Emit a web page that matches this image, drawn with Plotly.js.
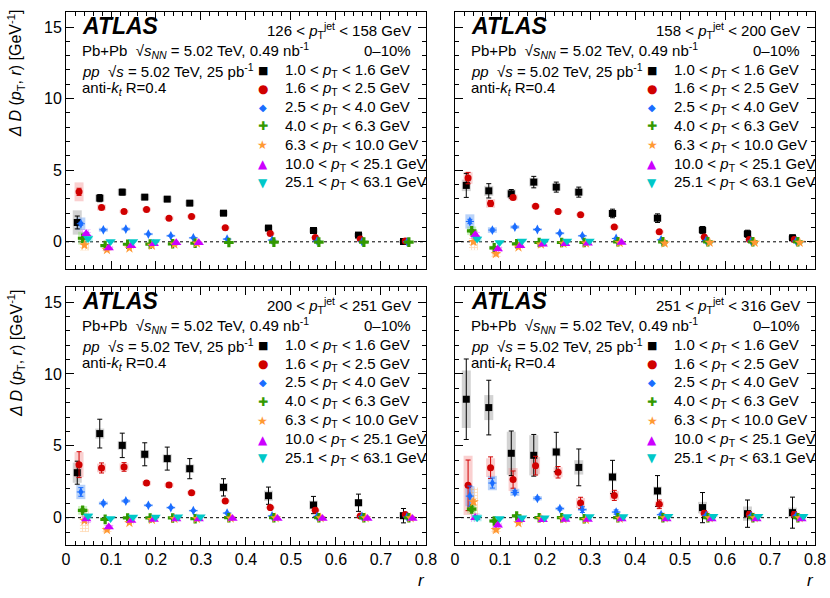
<!DOCTYPE html>
<html>
<head>
<meta charset="utf-8">
<script src="https://cdn.plot.ly/plotly-3.0.1.min.js"></script>
<style>
  body { margin: 0; background: #fff; }
  #chart { width: 830px; height: 598px; }
</style>
</head>
<body>
<div id="chart"></div>
<script>
var n = null;

// r bin centres
var rCenters = [0.025, 0.075, 0.125, 0.175, 0.225, 0.275, 0.35, 0.45, 0.55, 0.65, 0.75];
var jetPtEdges = ['126', '158', '200', '251', '316'];
var trackPtEdges = ['1.0', '1.6', '2.5', '4.0', '6.3', '10.0', '25.1', '63.1'];

// Delta D values, one row per track pT bin
var val126 = [
  [1.35, 3.05, 3.47, 3.12, 2.98, 2.70, 2.00, 0.96, 0.79, 0.47, 0.02],
  [3.49, 2.40, 2.12, 2.26, 1.65, 1.77, 0.98, 0.58, 0.30, 0.19, 0.05],
  [1.26, 0.84, 0.89, 0.54, 0.42, 0.28, 0.19, 0.12, 0.06, 0.01, 0.00],
  [0.25, -0.26, -0.17, -0.16, -0.14, -0.10, -0.05, -0.02, -0.02, -0.02, -0.02],
  [-0.23, -0.56, -0.44, -0.26, -0.17, -0.10, n, n, n, n, n],
  [0.56, -0.44, -0.28, -0.14, -0.07, -0.07, n, n, n, n, n],
  [0.23, 0.02, 0.02, 0.02, n, n, n, n, n, n, n]
];
var stat126 = [
  [0.45, 0.25, 0.20, 0.15, 0.15, 0.15, 0.12, 0.10, 0.10, 0.10, 0.08],
  [0.25, 0.12, 0.10, 0.10, 0.08, 0.08, 0.07, 0.06, 0.05, 0.05, 0.05],
  [0.10, 0.06, 0.06, 0.05, 0.05, 0.04, 0.04, 0.03, 0.03, 0.03, 0.03],
  [0.06, 0.04, 0.03, 0.03, 0.03, 0.03, 0.02, 0.02, 0.02, 0.02, 0.02],
  [0.06, 0.05, 0.04, 0.03, 0.03, 0.03, 0.02, 0.02, 0.02, 0.02, 0.02],
  [0.08, 0.06, 0.05, 0.04, 0.04, 0.04, 0.03, 0.03, 0.03, 0.03, 0.03],
  [0.08, 0.05, 0.04, 0.04, 0.04, 0.04, 0.03, 0.03, 0.03, 0.03, 0.03]
];
var sys126 = [
  [0.85, 0.25, 0.22, 0.20, 0.20, 0.20, 0.18, 0.18, 0.16, 0.14, 0.12],
  [0.66, 0.20, 0.12, 0.12, 0.12, 0.12, 0.10, 0.08, 0.07, 0.06, 0.05],
  [0.44, 0.14, 0.10, 0.08, 0.07, 0.06, 0.05, 0.04, 0.04, 0.03, 0.03],
  [0.45, 0.10, 0.06, 0.05, 0.05, 0.04, 0.03, 0.03, 0.02, 0.02, 0.02],
  [0.37, 0.12, 0.08, 0.06, 0.05, 0.04, 0.03, 0.03, 0.02, 0.02, 0.02],
  [0.30, 0.14, 0.08, 0.06, 0.05, 0.05, 0.04, 0.03, 0.03, 0.03, 0.03],
  [0.25, 0.06, 0.05, 0.05, 0.04, 0.04, 0.03, 0.03, 0.03, 0.03, 0.03]
];

var val158 = [
  [3.94, 3.56, 3.35, 4.17, 3.82, 3.47, 1.98, 1.65, 0.82, 0.56, 0.28],
  [4.45, 2.68, 3.10, 2.49, 2.12, 1.89, 1.03, 0.70, 0.33, 0.16, 0.16],
  [1.42, 0.82, 1.03, 0.86, 0.60, 0.42, 0.23, 0.14, 0.09, 0.05, 0.05],
  [0.77, -0.42, -0.14, -0.05, -0.05, -0.05, 0.00, 0.00, 0.00, 0.00, 0.00],
  [0.00, -0.84, -0.37, -0.17, -0.12, -0.10, -0.07, -0.10, -0.05, -0.05, -0.05],
  [0.49, -0.51, -0.28, -0.17, -0.14, -0.10, -0.05, n, n, n, n],
  [0.19, -0.05, 0.05, 0.05, 0.05, 0.05, n, n, n, n, n]
];
var stat158 = [
  [0.84, 0.50, 0.30, 0.40, 0.35, 0.35, 0.30, 0.30, 0.25, 0.25, 0.20],
  [0.40, 0.20, 0.15, 0.10, 0.10, 0.10, 0.10, 0.08, 0.07, 0.06, 0.06],
  [0.15, 0.08, 0.07, 0.06, 0.05, 0.05, 0.04, 0.04, 0.03, 0.03, 0.03],
  [0.08, 0.05, 0.04, 0.03, 0.03, 0.03, 0.02, 0.02, 0.02, 0.02, 0.02],
  [0.08, 0.06, 0.05, 0.04, 0.03, 0.03, 0.03, 0.03, 0.03, 0.03, 0.03],
  [0.08, 0.07, 0.05, 0.04, 0.04, 0.04, 0.03, 0.03, 0.03, 0.03, 0.03],
  [0.08, 0.05, 0.04, 0.04, 0.04, 0.04, 0.03, 0.03, 0.03, 0.03, 0.03]
];
var sys158 = [
  [0.40, 0.35, 0.30, 0.30, 0.25, 0.25, 0.25, 0.25, 0.20, 0.20, 0.15],
  [0.40, 0.30, 0.20, 0.12, 0.10, 0.10, 0.10, 0.10, 0.07, 0.06, 0.05],
  [0.50, 0.20, 0.12, 0.10, 0.08, 0.06, 0.05, 0.04, 0.04, 0.03, 0.03],
  [0.30, 0.15, 0.08, 0.06, 0.05, 0.04, 0.03, 0.03, 0.02, 0.02, 0.02],
  [0.58, 0.25, 0.12, 0.08, 0.06, 0.05, 0.04, 0.04, 0.03, 0.03, 0.03],
  [0.30, 0.18, 0.08, 0.06, 0.05, 0.05, 0.04, 0.03, 0.03, 0.03, 0.03],
  [0.20, 0.06, 0.05, 0.05, 0.04, 0.04, 0.03, 0.03, 0.03, 0.03, 0.03]
];

var val200 = [
  [3.13, 5.85, 5.03, 4.41, 4.11, 3.41, 2.11, 1.53, 0.88, 1.04, 0.14],
  [3.69, 3.46, 3.53, 2.41, 2.27, 1.74, 1.16, 0.70, 0.51, 0.12, 0.23],
  [1.79, 1.00, 1.16, 0.86, 0.70, 0.49, 0.32, 0.12, 0.09, 0.09, 0.05],
  [0.51, -0.12, -0.02, -0.02, -0.02, -0.07, 0.00, 0.00, 0.00, 0.00, 0.00],
  [-0.20, -0.84, -0.35, -0.14, -0.07, -0.07, -0.03, -0.02, -0.02, -0.02, -0.02],
  [-0.10, -0.65, -0.19, -0.12, -0.09, -0.09, -0.05, -0.05, -0.05, -0.05, -0.05],
  [0.12, -0.05, 0.05, 0.05, 0.07, 0.07, n, n, n, n, n]
];
var stat200 = [
  [0.80, 1.00, 0.85, 0.80, 0.80, 0.70, 0.60, 0.60, 0.60, 0.60, 0.50],
  [0.90, 0.35, 0.30, 0.15, 0.15, 0.12, 0.10, 0.08, 0.08, 0.06, 0.06],
  [0.30, 0.10, 0.08, 0.07, 0.06, 0.05, 0.05, 0.04, 0.04, 0.03, 0.03],
  [0.10, 0.05, 0.04, 0.03, 0.03, 0.03, 0.02, 0.02, 0.02, 0.02, 0.02],
  [0.10, 0.06, 0.05, 0.04, 0.03, 0.03, 0.03, 0.03, 0.03, 0.03, 0.03],
  [0.10, 0.08, 0.05, 0.04, 0.04, 0.04, 0.03, 0.03, 0.03, 0.03, 0.03],
  [0.10, 0.05, 0.04, 0.04, 0.04, 0.04, 0.03, 0.03, 0.03, 0.03, 0.03]
];
var sys200 = [
  [0.70, 0.35, 0.30, 0.30, 0.30, 0.30, 0.30, 0.35, 0.30, 0.25, 0.25],
  [0.87, 0.30, 0.25, 0.15, 0.15, 0.12, 0.10, 0.08, 0.07, 0.06, 0.06],
  [0.50, 0.12, 0.10, 0.08, 0.07, 0.06, 0.05, 0.04, 0.04, 0.03, 0.03],
  [0.30, 0.10, 0.06, 0.05, 0.05, 0.04, 0.03, 0.03, 0.02, 0.02, 0.02],
  [0.80, 0.20, 0.12, 0.08, 0.06, 0.05, 0.04, 0.04, 0.03, 0.03, 0.03],
  [0.35, 0.15, 0.08, 0.06, 0.05, 0.05, 0.04, 0.03, 0.03, 0.03, 0.03],
  [0.20, 0.06, 0.05, 0.05, 0.04, 0.04, 0.03, 0.03, 0.03, 0.03, 0.03]
];

var val251 = [
  [8.24, 7.66, 4.48, 4.34, 4.57, 3.50, 2.83, 1.86, 0.70, 0.28, 0.35],
  [2.25, 3.48, 2.65, 3.62, 3.16, 1.02, 1.55, 0.93, 0.30, 0.23, 0.23],
  [1.50, 2.41, 1.76, 1.35, 0.63, 0.56, 0.39, 0.21, 0.16, 0.12, 0.12],
  [0.60, -0.23, 0.12, 0.00, 0.00, -0.07, 0.00, 0.00, 0.00, 0.00, 0.00],
  [1.10, -0.84, -0.37, -0.07, -0.09, -0.14, -0.05, -0.02, -0.02, -0.02, -0.02],
  [0.00, -0.53, -0.14, -0.14, -0.12, -0.12, -0.09, -0.09, -0.09, -0.09, -0.09],
  [0.00, -0.05, 0.00, 0.00, 0.09, 0.09, 0.09, 0.10, 0.10, 0.10, 0.10]
];
var stat251 = [
  [2.80, 1.90, 1.55, 1.45, 1.37, 1.28, 1.16, 1.07, 1.05, 0.95, 1.08],
  [1.76, 0.75, 0.60, 0.65, 0.40, 0.40, 0.35, 0.30, 0.20, 0.20, 0.20],
  [0.70, 0.35, 0.12, 0.10, 0.10, 0.20, 0.15, 0.10, 0.08, 0.08, 0.08],
  [0.15, 0.08, 0.05, 0.04, 0.04, 0.04, 0.03, 0.03, 0.03, 0.03, 0.03],
  [0.15, 0.08, 0.06, 0.05, 0.04, 0.04, 0.03, 0.03, 0.03, 0.03, 0.03],
  [0.12, 0.08, 0.06, 0.05, 0.04, 0.04, 0.04, 0.04, 0.04, 0.04, 0.04],
  [0.12, 0.06, 0.05, 0.05, 0.04, 0.04, 0.04, 0.04, 0.04, 0.04, 0.04]
];
var sys251 = [
  [2.00, 0.87, 1.50, 1.40, 0.30, 0.50, 0.30, 0.30, 0.40, 0.50, 0.35],
  [2.06, 0.65, 0.80, 0.60, 0.35, 0.35, 0.30, 0.20, 0.15, 0.12, 0.10],
  [0.70, 0.50, 0.25, 0.15, 0.10, 0.10, 0.08, 0.06, 0.05, 0.05, 0.05],
  [0.30, 0.12, 0.08, 0.06, 0.05, 0.04, 0.03, 0.03, 0.02, 0.02, 0.02],
  [1.00, 0.25, 0.12, 0.08, 0.06, 0.05, 0.04, 0.04, 0.03, 0.03, 0.03],
  [0.30, 0.15, 0.08, 0.06, 0.05, 0.05, 0.04, 0.03, 0.03, 0.03, 0.03],
  [0.25, 0.06, 0.05, 0.05, 0.04, 0.04, 0.03, 0.03, 0.03, 0.03, 0.03]
];

var panels = [
  { vals: val126, stat: stat126, sys: sys126, suf: '',  jet: 0 },
  { vals: val158, stat: stat158, sys: sys158, suf: '2', jet: 1 },
  { vals: val200, stat: stat200, sys: sys200, suf: '3', jet: 2 },
  { vals: val251, stat: stat251, sys: sys251, suf: '4', jet: 3 }
];

var FONT = "'Liberation Sans', Arial, Helvetica, sans-serif";
var colors = ['#000000', '#d00000', '#1a6dff', '#339900', '#ff9933', '#cc00ff', '#00c8c8'];
var boxColors = ['rgba(140,140,140,0.38)', 'rgba(240,120,120,0.35)', 'rgba(90,150,240,0.42)',
                 'rgba(120,220,90,0.38)', 'rgba(250,150,60,0.6)', 'rgba(215,60,235,0.55)', 'rgba(70,215,215,0.4)'];
var symbols = ['square', 'circle', 'diamond-tall', 'cross', 'star', 'triangle-up', 'triangle-down'];
var sizes = [7, 7, 7, 8, 8, 9, 9];
var glyphs = ['\u25A0', '\u25CF', '\u25C6', '\u271A', '\u2605', '\u25B2', '\u25BC'];
var glyphSizes = [11, 12, 10, 12, 12, 12, 12];
var DODGE = 0.004;

var data = [];
panels.forEach(function(p) {
  p.vals.forEach(function(v, s) {
    var xs = rCenters.map(function(r) { return r + s * DODGE; });
    var hatch = (s === 4 || s === 5);
    data.push({
      type: 'bar', xaxis: 'x' + p.suf, yaxis: 'y' + p.suf,
      x: xs,
      y: v.map(function(y, i) { return y === null ? null : 2 * p.sys[s][i]; }),
      base: v.map(function(y, i) { return y === null ? null : y - p.sys[s][i]; }),
      width: 0.02,
      marker: {
        color: boxColors[s], line: { width: 0 },
        pattern: hatch ? { shape: '+', size: 3, solidity: 0.5, fgcolor: colors[s], fgopacity: 0.35 } : undefined
      },
      showlegend: false, hoverinfo: 'skip'
    });
    data.push({
      type: 'scatter', mode: 'markers', xaxis: 'x' + p.suf, yaxis: 'y' + p.suf,
      x: xs, y: v,
      marker: { symbol: symbols[s], size: sizes[s], color: colors[s], line: { width: 0 } },
      error_y: { type: 'data', array: p.stat[s], color: colors[s], thickness: 1, width: 2.5 },
      error_x: s === 2 ? { type: 'constant', value: 0.009, color: colors[s], thickness: 1, width: 0 } : undefined,
      showlegend: false
    });
  });
});

function xAxis(domain, anchor, labels) {
  return {
    domain: domain, anchor: anchor, range: [0, 0.8], tick0: 0, dtick: 0.1,
    ticks: 'inside', ticklen: 8, tickwidth: 1, tickcolor: '#000',
    showline: true, linecolor: '#000', linewidth: 1, mirror: 'allticks',
    showgrid: false, zeroline: false, showticklabels: labels,
    tickfont: { family: FONT, size: 16, color: '#000' },
    minor: { dtick: 0.02, ticks: 'inside', ticklen: 4, tickcolor: '#000', showgrid: false }
  };
}
function yAxis(domain, anchor, labels) {
  return {
    domain: domain, anchor: anchor, range: [-1.9, 16.05], tick0: 0, dtick: 5,
    ticks: 'inside', ticklen: 8, tickwidth: 1, tickcolor: '#000',
    showline: true, linecolor: '#000', linewidth: 1, mirror: 'allticks',
    showgrid: false, zeroline: false, showticklabels: labels,
    tickfont: { family: FONT, size: 16, color: '#000' },
    minor: { dtick: 1, ticks: 'inside', ticklen: 4, tickcolor: '#000', showgrid: false }
  };
}

var xL = [0, 0.4806], xR = [0.5194, 1];
var yT = [0.5178, 1], yB = [0, 0.4841];

var annotations = [];
var shapes = [];
var PH = 257, PW = 360;
function fy(px) { return 1 - px / PH; }
function fx(px) { return px / PW; }

panels.forEach(function(p) {
  var xr = 'x' + p.suf + ' domain', yr = 'y' + p.suf + ' domain';
  function txt(t, x, y, anchor, size, extra) {
    var a = { text: t, xref: xr, yref: yr, x: x, y: y, xanchor: anchor, yanchor: 'middle',
              showarrow: false, font: { family: FONT, size: size || 15, color: '#000' } };
    if (extra) Object.assign(a, extra);
    annotations.push(a);
  }
  txt('<b><i>ATLAS</i></b>', fx(14), fy(14), 'left', 23);
  txt(jetPtEdges[p.jet] + ' < <i>p</i><sub>T</sub><sup>jet</sup> < ' + jetPtEdges[p.jet + 1] + ' GeV',
      fx(347), fy(18), 'right', 15);
  txt('Pb+Pb  \u221A<i>s</i><sub><i>NN</i></sub> = 5.02 TeV, 0.49 nb<sup>-1</sup>', fx(14), fy(38), 'left', 15);
  txt('0\u201310%', fx(347), fy(38), 'right', 15);
  txt('<i>pp</i>  \u221A<i>s</i> = 5.02 TeV, 25 pb<sup>-1</sup>', fx(14), fy(58), 'left', 15);
  txt('anti-<i>k</i><sub><i>t</i></sub> R=0.4', fx(14), fy(76), 'left', 15);
  for (var s = 0; s < 7; s++) {
    var rowY = fy(58 + s * 18.8);
    annotations.push({ text: glyphs[s], xref: xr, yref: yr, x: fx(197), y: rowY, xanchor: 'center', yanchor: 'middle',
      showarrow: false, font: { family: 'DejaVu Sans', size: glyphSizes[s], color: colors[s] } });
    txt(trackPtEdges[s] + ' < <i>p</i><sub>T</sub> < ' + trackPtEdges[s + 1] + ' GeV', fx(217), rowY, 'left', 15);
  }
  shapes.push({ type: 'line', xref: xr, yref: 'y' + p.suf, x0: 0, x1: 1, y0: 0, y1: 0, layer: 'below',
                line: { color: '#000', width: 1, dash: 'dot' } });
});

// axis titles
var yTitle = '<i>\u0394 D</i> (<i>p</i><sub>T</sub>, <i>r</i>) [GeV<sup>-1</sup>]';
[[1.009], [0.484]].forEach(function(t) {
  annotations.push({ text: yTitle, xref: 'paper', yref: 'paper', x: -0.0668, y: t[0], xanchor: 'center', yanchor: 'top',
    textangle: -90, showarrow: false, font: { family: FONT, size: 16, color: '#000' } });
});
[0.482, 1.001].forEach(function(x) {
  annotations.push({ text: '<i>r</i>', xref: 'paper', yref: 'paper', x: x, y: -0.0657, xanchor: 'right', yanchor: 'middle',
    showarrow: false, font: { family: FONT, size: 17, color: '#000' } });
});

var layout = {
  width: 830, height: 598,
  margin: { l: 66, r: 15, t: 12, b: 53 },
  paper_bgcolor: '#fff', plot_bgcolor: '#fff',
  barmode: 'overlay', showlegend: false,
  font: { family: FONT, color: '#000' },
  xaxis: xAxis(xL, 'y', false), yaxis: yAxis(yT, 'x', true),
  xaxis2: xAxis(xR, 'y2', false), yaxis2: yAxis(yT, 'x2', false),
  xaxis3: xAxis(xL, 'y3', true), yaxis3: yAxis(yB, 'x3', true),
  xaxis4: xAxis(xR, 'y4', true), yaxis4: yAxis(yB, 'x4', false),
  annotations: annotations, shapes: shapes
};

Plotly.newPlot('chart', data, layout, { displayModeBar: false, staticPlot: true });
</script>
</body>
</html>
